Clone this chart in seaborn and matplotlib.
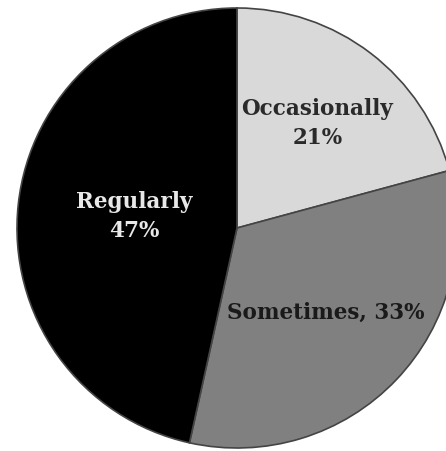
import numpy as np
import matplotlib
matplotlib.use("Agg")
import matplotlib.pyplot as plt
import seaborn as sns

categories = ["Occasionally", "Sometimes", "Regularly"]
values = [21, 33, 47]
label_texts = ["Occasionally\n21%", "Sometimes, 33%", "Regularly\n47%"]

sns.set_theme(style="white")
colors = ["#d9d9d9", "#808080", "#000000"]
text_colors = ["#2a2a2a", "#1a1a1a", "#e8e8e8"]
label_r = [0.60, 0.56, 0.47]

fig = plt.figure(figsize=(4.46, 4.51), dpi=100)
ax = fig.add_axes([0, 0, 1, 1])
cx, cy, R = 237, 223, 220
wedges, _ = ax.pie(values, colors=colors, startangle=90, counterclock=False,
                   center=(cx, cy), radius=R,
                   wedgeprops=dict(edgecolor="#444444", linewidth=1.2))
for w, txt, tc, lr in zip(wedges, label_texts, text_colors, label_r):
    ang = np.deg2rad((w.theta1 + w.theta2) / 2)
    x = cx + lr * R * np.cos(ang)
    y = cy + lr * R * np.sin(ang)
    ax.text(x, y, txt, ha="center", va="center", color=tc,
            fontsize=15.5, fontweight="bold", family="DejaVu Serif",
            linespacing=1.4)
ax.set_xlim(0, 446)
ax.set_ylim(0, 451)
ax.set_aspect("equal")
ax.axis("off")
fig.savefig("out.png", dpi=100)
